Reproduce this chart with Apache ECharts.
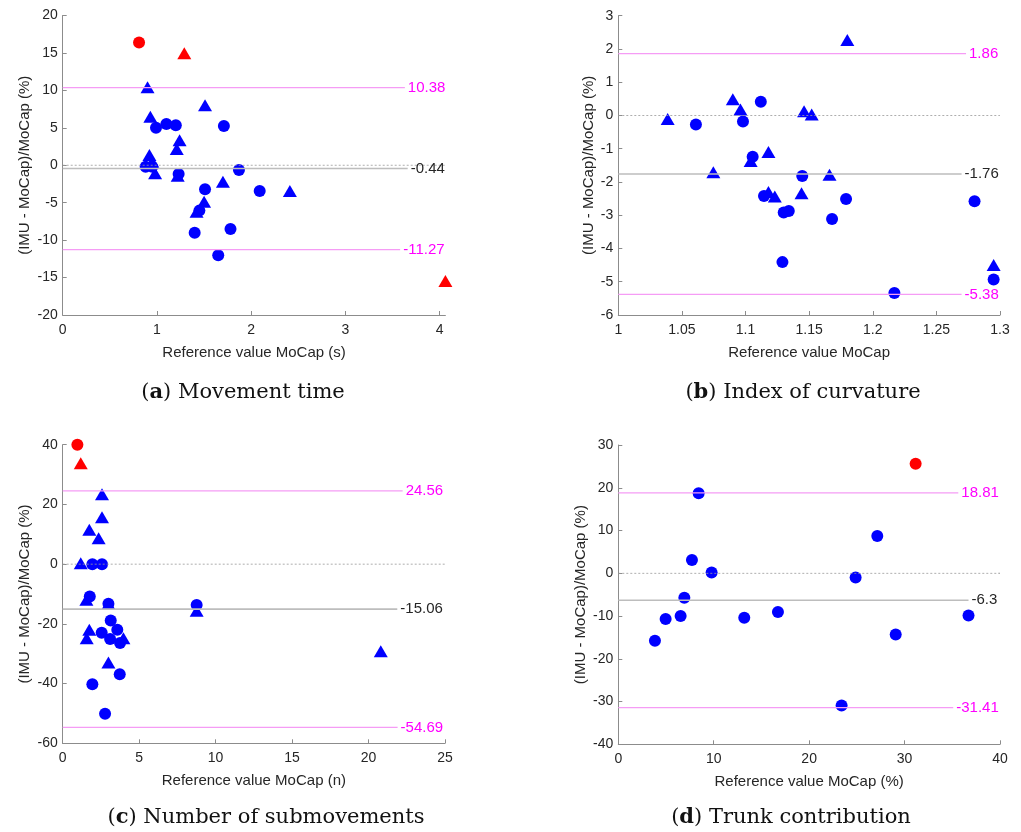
<!DOCTYPE html>
<html>
<head>
<meta charset="utf-8">
<script src="https://cdn.jsdelivr.net/npm/echarts@6/dist/echarts.min.js"></script>
<style>html,body{margin:0;padding:0;background:#fff;}#c{width:1021px;height:832px;}</style>
</head>
<body>
<div id="c"></div>
<script>
// ---- Panel (a) Movement time ----
var aBlueCircles = [[0.99,5.02],[1.10,5.51],[1.20,5.33],[1.71,5.25],[0.88,-0.19],[0.95,-0.19],[1.23,-1.17],[1.87,-0.63],[1.51,-3.21],[2.09,-3.44],[1.45,-6.06],[1.40,-9.0],[1.78,-8.51],[1.65,-12.03]];
var aBlueTriangles = [[0.90,10.41],[1.51,8.0],[0.93,6.49],[1.24,3.33],[1.21,2.17],[0.92,1.37],[0.95,0.48],[0.98,-1.08],[1.22,-1.39],[1.70,-2.19],[2.41,-3.44],[1.50,-4.86],[1.42,-6.2]];
var aRedCircles = [[0.81,16.4]];
var aRedTriangles = [[1.29,14.95],[4.06,-15.46]];
var aLines = [10.38, -0.44, -11.27];

// ---- Panel (b) Index of curvature ----
var bBlueCircles = [[1.061,-0.27],[1.098,-0.18],[1.112,0.41],[1.1056,-1.24],[1.1446,-1.82],[1.1145,-2.42],[1.130,-2.92],[1.134,-2.87],[1.179,-2.51],[1.168,-3.11],[1.129,-4.41],[1.217,-5.34],[1.280,-2.58],[1.295,-4.93]];
var bBlueTriangles = [[1.0388,-0.11],[1.090,0.49],[1.096,0.18],[1.180,2.27],[1.146,0.13],[1.152,0.03],[1.0747,-1.71],[1.104,-1.37],[1.118,-1.10],[1.118,-2.30],[1.123,-2.44],[1.144,-2.34],[1.166,-1.78],[1.295,-4.50]];
var bLines = [1.86, -1.76, -5.38];

// ---- Panel (c) Number of submovements ----
var cBlueCircles = [[1.94,0],[2.57,0],[1.77,-10.8],[2.99,-13.3],[8.76,-13.7],[3.14,-18.9],[2.55,-23.0],[3.57,-22.0],[3.10,-25.1],[3.75,-26.4],[3.73,-36.9],[1.94,-40.2],[2.77,-50.1]];
var cBlueTriangles = [[2.57,23.4],[2.57,15.7],[1.74,11.5],[2.35,8.7],[1.18,0.33],[1.55,-11.9],[2.99,-13.3],[8.76,-15.6],[1.74,-22.0],[1.57,-24.8],[3.97,-24.8],[2.99,-32.9],[20.8,-29.2]];
var cRedCircles = [[0.96,40.0]];
var cRedTriangles = [[1.18,33.8]];
var cLines = [24.56, -15.06, -54.69];

// ---- Panel (d) Trunk contribution ----
var dBlueCircles = [[3.84,-15.8],[4.96,-10.7],[6.53,-10.0],[6.92,-5.7],[7.72,3.1],[8.42,18.7],[9.78,0.2],[13.2,-10.4],[16.73,-9.05],[23.4,-30.95],[24.87,-1.0],[27.14,8.7],[29.07,-14.3],[36.7,-9.9]];
var dRedCircles = [[31.16,25.6]];
var dLines = [18.81, -6.3, -31.41];

var captions = [['a','Movement time'],['b','Index of curvature'],['c','Number of submovements'],['d','Trunk contribution']];
var xNames = ['Reference value MoCap (s)','Reference value MoCap','Reference value MoCap (n)','Reference value MoCap (%)'];
var yName = '(IMU - MoCap)/MoCap (%)';

var panels = [
  {grid:{left:62.7,top:15.5,width:382.7,height:299.5}, x:[0,4.06,1], y:[-20,20,5], yGap:30,
   bc:aBlueCircles, bt:aBlueTriangles, rc:aRedCircles, rt:aRedTriangles, lines:aLines, ends:[3.63,3.66,3.58], cap:[238,390]},
  {grid:{left:618.3,top:15.7,width:381.7,height:299.3}, x:[1,1.3,0.05], y:[-6,3,1], yGap:22,
   bc:bBlueCircles, bt:bBlueTriangles, rc:[], rt:[], lines:bLines, ends:[1.2733,1.2698,1.2698], cap:[798,390]},
  {grid:{left:62.7,top:444.7,width:382.3,height:298.6}, x:[0,25,5], y:[-60,40,20], yGap:30,
   bc:cBlueCircles, bt:cBlueTriangles, rc:cRedCircles, rt:cRedTriangles, lines:cLines, ends:[22.23,21.88,21.9], cap:[261,815]},
  {grid:{left:618.3,top:445,width:381.7,height:299.3}, x:[0,40,10], y:[-40,30,10], yGap:30,
   bc:dBlueCircles, bt:[], rc:dRedCircles, rt:[], lines:dLines, ends:[35.63,36.7,35.1], cap:[786,815]}
];

var FONT = 'Liberation Sans';
var axisLineColor = '#8c8c8c';
var tickColor = '#262626';
var grids=[], xAxes=[], yAxes=[], series=[], titles=[];

function refLine(i, x0, x1, y, color, type, width, label, labelColor){
  series.push({type:'line', xAxisIndex:i, yAxisIndex:i, data:[[x0,y],[x1,y]], silent:true, animation:false,
    symbol:'none', showSymbol:false, color:color,
    lineStyle:{color:color, type:type, width:width, opacity:1},
    itemStyle:{color:color},
    emphasis:{disabled:true},
    endLabel: label ? {show:true, distance:3, formatter:label, color:labelColor, fontSize:15, fontFamily:FONT} : {show:false}
  });
}

panels.forEach(function(p, i){
  grids.push(p.grid);
  var xIsMult = Math.abs(Math.round(p.x[1]/p.x[2])*p.x[2]-p.x[1])<1e-9;
  xAxes.push({type:'value', gridIndex:i, min:p.x[0], max:p.x[1], interval:p.x[2],
    name:xNames[i], nameLocation:'middle', nameGap:30,
    nameTextStyle:{color:tickColor, fontSize:15, fontFamily:FONT},
    axisLine:{show:true, onZero:false, lineStyle:{color:axisLineColor, width:1}},
    axisTick:{show:true, inside:true, length:4, lineStyle:{color:axisLineColor}},
    splitLine:{show:false},
    axisLabel:{color:tickColor, fontSize:14, fontFamily:FONT, margin:8, showMaxLabel: xIsMult,
      formatter:function(v){ return String(Math.round(v*100)/100); }}
  });
  yAxes.push({type:'value', gridIndex:i, min:p.y[0], max:p.y[1], interval:p.y[2],
    name:yName, nameLocation:'middle', nameGap:p.yGap, nameRotate:90,
    nameTextStyle:{color:tickColor, fontSize:15, fontFamily:FONT},
    axisLine:{show:true, onZero:false, lineStyle:{color:axisLineColor, width:1}},
    axisTick:{show:true, inside:true, length:4, lineStyle:{color:axisLineColor}},
    splitLine:{show:false},
    axisLabel:{color:tickColor, fontSize:14, fontFamily:FONT, margin:5}
  });
  refLine(i, p.x[0], p.x[1], 0, '#9a9a9a', [2,2], 0.8, null, null);
  p.lines.forEach(function(v, k){
    var isMean = (k===1);
    refLine(i, p.x[0], p.ends[k], v, isMean?'#bdbdbd':'#f59cf5', 'solid', isMean?1.6:1.2, String(v), isMean?'#262626':'#ff00ff');
  });
  var mk = function(data, color, sym, size){
    series.push({type:'scatter', xAxisIndex:i, yAxisIndex:i, data:data, symbol:sym, symbolSize:size,
      itemStyle:{color:color, opacity:1}, animation:false, silent:true});
  };
  mk(p.bc, '#0000ff', 'circle', 12);
  mk(p.bt, '#0000ff', 'triangle', [14,12]);
  mk(p.rc, '#ff0000', 'circle', 12);
  mk(p.rt, '#ff0000', 'triangle', [14,12]);
  titles.push({text:'({b|'+captions[i][0]+'}) '+captions[i][1], left:p.cap[0], top:p.cap[1]-13, textAlign:'center',
    textStyle:{fontFamily:'DejaVu Serif', fontSize:21, fontWeight:'normal', color:'#111',
      rich:{b:{fontFamily:'DejaVu Serif', fontSize:21, fontWeight:'bold', color:'#111'}}}});
});

var chart = echarts.init(document.getElementById('c'), null, {renderer:'canvas'});
chart.setOption({animation:false, title:titles, grid:grids, xAxis:xAxes, yAxis:yAxes, series:series});
</script>
</body>
</html>
